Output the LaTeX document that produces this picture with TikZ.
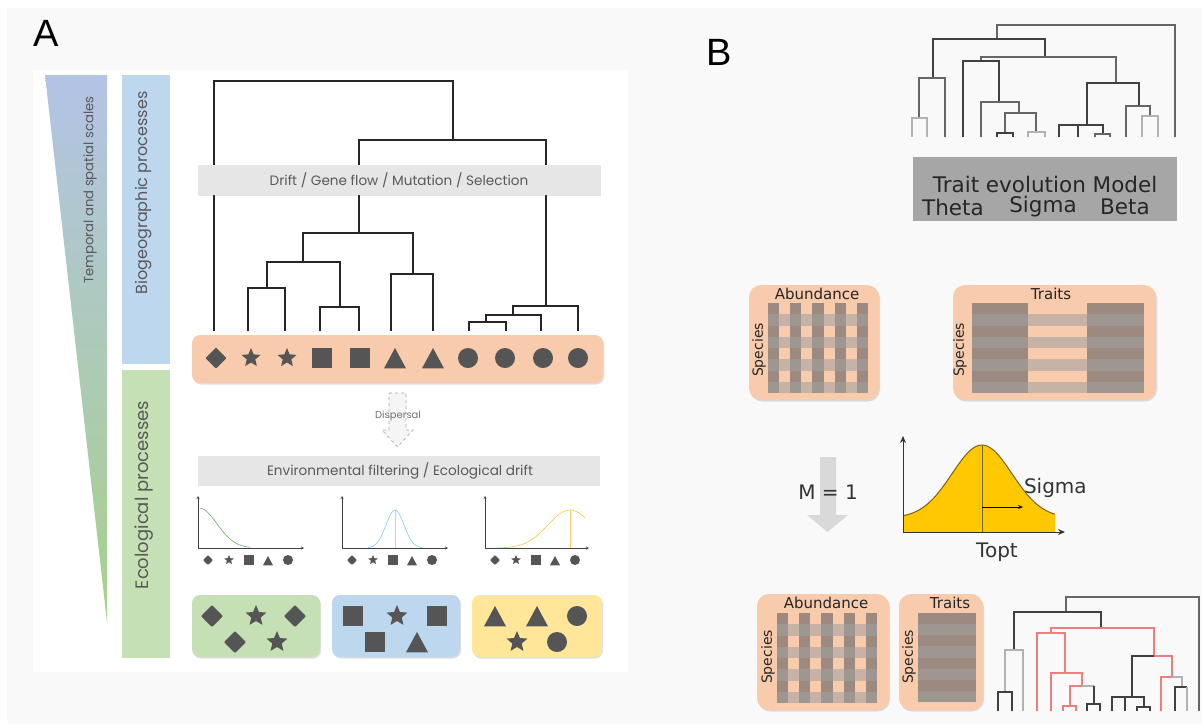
\documentclass[tikz,border=0pt]{standalone}
\usepackage{fontspec}
\setmainfont{DejaVu Sans}
\newfontfamily\fa{Poppins}
\newfontfamily\fl{Liberation Sans}
\usetikzlibrary{shadows,arrows.meta,calc}
\definecolor{bgc}{HTML}{F9F9F9}
\definecolor{salmon}{HTML}{F8CBAD}
\definecolor{gbox}{HTML}{C5E0B4}
\definecolor{bbox}{HTML}{BDD7EE}
\definecolor{ybox}{HTML}{FFE699}
\definecolor{symc}{HTML}{555555}
\definecolor{band}{HTML}{E6E6E6}
\definecolor{txa}{HTML}{595959}
\definecolor{wedgeb}{HTML}{B3C3E6}
\definecolor{wedgeg}{HTML}{A5D28A}
\definecolor{barb}{HTML}{BDD7EE}
\definecolor{barg}{HTML}{C5E0B4}
\definecolor{darkcol}{RGB}{156,138,128}
\definecolor{stripe}{RGB}{160,160,160}
\definecolor{gold}{HTML}{FFC800}
\definecolor{goldl}{HTML}{7A6410}
\definecolor{redl}{HTML}{F07C7C}
\definecolor{graybox}{HTML}{A6A6A6}
\newcommand{\abgrid}[3]{%
  \foreach \i in {0,2,4,6,8} \fill[darkcol] ({#1+\i*#3/9},#2) rectangle ({#1+(\i+1)*#3/9},{#2+90});
  \foreach \j in {1,3,5,7} \fill[stripe,opacity=0.55] (#1,{#2+\j*90/8}) rectangle ({#1+#3},{#2+(\j+1)*90/8});
}
\begin{document}
\begin{tikzpicture}[x=1pt,y=-1pt,
  every node/.style={inner sep=0pt,outer sep=0pt},
  sbox/.style={rounded corners=8pt,drop shadow={shadow xshift=1pt,shadow yshift=-1.5pt,opacity=0.25}},
  mbox/.style={rounded corners=12pt,fill=salmon,drop shadow={shadow xshift=1pt,shadow yshift=-1.5pt,opacity=0.25}},
  tA/.style={line width=1.6pt,draw=black!85,line cap=rect},
  tB/.style={line width=1.3pt,draw=black!60},
  tBl/.style={line width=1.3pt,draw=black!30},
  tBd/.style={line width=1.3pt,draw=black!75},
  tR/.style={line width=1.3pt,draw=redl},
  axA/.style={line width=0.8pt,draw=black!75,-{Stealth[length=3pt,width=3pt]}},
  symdiam/.pic={\fill[symc,rounded corners=0.8pt] (-#1,0)--(0,-#1)--(#1,0)--(0,#1)--cycle;},
  symsq/.pic={\fill[symc] (-#1,-#1) rectangle (#1,#1);},
  symcirc/.pic={\fill[symc] (0,0) circle[radius=#1];},
  symtri/.pic={\fill[symc] (0,-#1)--(#1,0.85*#1)--(-#1,0.85*#1)--cycle;},
  symstar/.pic={\fill[symc] (-90:#1)--(-54:0.45*#1)--(-18:#1)--(18:0.45*#1)--(54:#1)--(90:0.45*#1)--(126:#1)--(162:0.45*#1)--(198:#1)--(234:0.45*#1)--cycle;},
  fA/.style={font=\fa\fontsize{13.6}{15}\selectfont,text=txa},
  fB/.style={font=\fontsize{15}{17}\selectfont,text=black!85},
  fT/.style={font=\fontsize{21.5}{23}\selectfont,text=black!85},
  fM/.style={font=\fontsize{20}{22}\selectfont,text=black!80},
]
\useasboundingbox (0,0) rectangle (1202,724);
\fill[white] (0,0) rectangle (1202,724);
\fill[bgc] (7,8) rectangle (1202,724);
% ================= PANEL A =================
\fill[white] (33,70) rectangle (628,672);
\node[font=\fl\fontsize{38}{40}\selectfont,anchor=base west] (labA) at (33,46) {A};
\node[font=\fl\fontsize{38}{40}\selectfont,anchor=base west] (labB) at (706,65) {B};
% wedge and bars
\shade[top color=wedgeb,bottom color=wedgeg] (45,75) -- (107,75) -- (107,622) -- cycle;
\fill[barb] (122,75) rectangle (170,364);
\fill[barg] (122,370) rectangle (170,658);
\node[fA,rotate=90,font=\fa\fontsize{13.2}{15}\selectfont] (tscale) at (90,190) {Temporal and spatial scales};
\node[fA,rotate=90,font=\fa\fontsize{16}{18}\selectfont] (tbio) at (144,193) {Biogeographic processes};
\node[fA,rotate=90,font=\fa\fontsize{18}{20}\selectfont] (teco) at (144,495) {Ecological processes};
% phylogeny A
\draw[tA] (214,330)--(214,81)--(453,81)--(453,140);
\draw[tA] (359,233)--(359,140)--(546,140)--(546,306);
\draw[tA] (303,262)--(303,233)--(413,233)--(413,274);
\draw[tA] (267,288)--(267,262)--(340,262)--(340,307);
\draw[tA] (248,330)--(248,288)--(285,288)--(285,330);
\draw[tA] (320,330)--(320,307)--(359,307)--(359,330);
\draw[tA] (391,330)--(391,274)--(433,274)--(433,330);
\draw[tA] (513,315)--(513,306)--(578,306)--(578,330);
\draw[tA] (486,322)--(486,315)--(541,315)--(541,330);
\draw[tA] (469,330)--(469,322)--(506,322)--(506,330);
% band 1
\fill[band,drop shadow={shadow xshift=0.5pt,shadow yshift=-1pt,opacity=0.2}] (198,165) rectangle (600,195);
\node[fA] (drift) at (399,180) {Drift / Gene flow / Mutation / Selection};
% species row
\path[sbox,fill=salmon] (192,335) rectangle (603,383);
\pic at (216,358) {symdiam=10.5};
\pic at (251,358) {symstar=10};
\pic at (287,358) {symstar=10};
\pic at (322,358) {symsq=10};
\pic at (360,358) {symsq=10};
\pic at (395,359) {symtri=11};
\pic at (433,359) {symtri=11};
\foreach \cx in {468,505,543,578} \pic at (\cx,358) {symcirc=10};
% dispersal arrow
\draw[black!35,dashed,fill=black!4,line width=0.6pt] (389,393)--(406,393)--(406,430)--(413,430)--(397.5,447)--(382,430)--(389,430)--cycle;
\node[font=\fa\fontsize{10}{12}\selectfont,text=black!55] (disp) at (398,416) {Dispersal};
% band 2
\fill[band] (198,456) rectangle (600,486);
\node[fA] (envf) at (400,471) {Environmental filtering / Ecological drift};
% graphs
\draw[axA] (198,548)--(198,496);
\draw[axA] (198,548)--(304,548);
\draw[green!50!black!60,line width=0.6pt] plot[domain=200:250,samples=40] (\x,{548-40*exp(-((\x-199)^2)/(2*18^2))});
\draw[axA] (342,548)--(342,496);
\draw[axA] (342,548)--(448,548);
\draw[blue!40!cyan!50,line width=0.6pt] plot[domain=368:422,samples=50] (\x,{548-38*exp(-((\x-395)^2)/(2*9^2))});
\draw[blue!30!cyan!40,line width=0.5pt] (395,510)--(395,548);
\draw[axA] (485,548)--(485,496);
\draw[axA] (485,548)--(589,548);
\draw[orange!70!yellow!70,line width=0.6pt] plot[domain=495:585,samples=50] (\x,{548-38*exp(-((\x-570)^2)/(2*22^2))});
\draw[orange!60!yellow!60,line width=0.5pt] (570,510)--(570,548);
\foreach \ox in {0,144,287} {
  \pic at (208+\ox,560) {symdiam=5};
  \pic at (229+\ox,560) {symstar=5};
  \pic at (249+\ox,560) {symsq=5};
  \pic at (268+\ox,561) {symtri=5};
  \pic at (288+\ox,560) {symcirc=5};
}
% community boxes
\path[sbox,fill=gbox] (192,595) rectangle (320,657);
\path[sbox,fill=bbox] (332,595) rectangle (460,657);
\path[sbox,fill=ybox] (472,595) rectangle (602,657);
\pic at (212,616) {symdiam=11};
\pic at (256,616) {symstar=11};
\pic at (295,616) {symdiam=11};
\pic at (235,642) {symdiam=11};
\pic at (277,642) {symstar=11};
\pic at (353,616) {symsq=10};
\pic at (397,616) {symstar=11};
\pic at (437,616) {symsq=10};
\pic at (375,642) {symsq=10};
\pic at (417,643) {symtri=11};
\pic at (495,617) {symtri=11};
\pic at (537,617) {symtri=11};
\pic at (577,616) {symcirc=10};
\pic at (517,642) {symstar=11};
\pic at (557,642) {symcirc=10};
% ================= PANEL B =================
% top tree
\draw[tB] (1175,137)--(1175,25)--(997,25)--(997,39);
\draw[tBd] (933,78)--(933,39)--(1045,39)--(1045,57);
\draw[tB] (919,118)--(919,78)--(945,78)--(945,137);
\draw[tBl] (912,137)--(912,118)--(927,118)--(927,137);
\draw[tB] (981,61)--(981,57)--(1116,57)--(1116,83);
\draw[tBd] (963,137)--(963,61)--(999,61)--(999,102);
\draw[tB] (981,137)--(981,102)--(1019,102)--(1019,113);
\draw[tB] (1005,133)--(1005,113)--(1036,113)--(1036,132);
\draw[tBd] (997,137)--(997,133)--(1013,133)--(1013,137);
\draw[tBl] (1028,137)--(1028,132)--(1045,132)--(1045,137);
\draw[tBd] (1087,125)--(1087,83)--(1139,83)--(1139,106);
\draw[tBd] (1059,137)--(1059,125)--(1103,125)--(1103,134);
\draw[tBd] (1078,125)--(1078,137);
\draw[tB] (1095,137)--(1095,134)--(1110,134)--(1110,137);
\draw[tB] (1126,137)--(1126,106)--(1150,106)--(1150,116);
\draw[tBl] (1142,137)--(1142,116)--(1158,116)--(1158,137);
\fill[graybox] (913,157) rectangle (1177,221);
\node[fT] (tem) at (1045,184) {Trait evolution Model};
\node[fT] (theta) at (953,207) {Theta};
\node[fT] (sigma1) at (1043,207) {Sigma};
\node[fT] (beta) at (1125,207) {Beta};
% matrices row 1
\path[mbox] (749,285) rectangle (879,400);
\abgrid{768}{303}{100}
\node[fB] (ab1) at (817,294) {Abundance};
\node[fB,rotate=90,font=\fontsize{14}{16}\selectfont] (sp1) at (759,350) {Species};
\path[mbox] (953,285) rectangle (1156,400);
\fill[darkcol] (972,303) rectangle (1028,393);
\fill[darkcol] (1087,303) rectangle (1144,393);
\foreach \j in {1,3,5,7} \fill[stripe,opacity=0.55] (972,{303+\j*90/8}) rectangle (1144,{303+(\j+1)*90/8});
\node[fB] (tr1) at (1051,294) {Traits};
\node[fB,rotate=90,font=\fontsize{14}{16}\selectfont] (sp2) at (960,350) {Species};
% arrow M=1
\fill[black!15] (820,457)--(836,457)--(836,515)--(848,515)--(827.5,532)--(807,515)--(820,515)--cycle;
\node[fM] (m1) at (828,492) {M = 1};
% gaussian
\fill[gold] (903,532) -- plot[domain=903:1055,samples=80] (\x,{518-73*exp(-((\x-982)^2)/(2*30^2))}) -- (1055,532) -- cycle;
\draw[goldl,line width=1pt] plot[domain=903:1055,samples=80] (\x,{518-73*exp(-((\x-982)^2)/(2*30^2))});
\draw[goldl,line width=1pt] (982,445)--(982,532);
\draw[black,line width=0.8pt,-{Stealth[length=5pt,width=4pt]}] (982,507)--(1023,507);
\draw[black!80,line width=1pt,-{Stealth[length=7pt,width=6pt]}] (903,532)--(903,436);
\draw[black!80,line width=1pt,-{Stealth[length=7pt,width=6pt]}] (903,532)--(1065,532);
\node[fM,anchor=west] (sig) at (1024,488) {Sigma};
\node[fM] (topt) at (997,552) {Topt};
% matrices row 2
\path[mbox] (757,594) rectangle (889,710);
\abgrid{777}{613}{100}
\node[fB] (ab2) at (826,603) {Abundance};
\node[fB,rotate=90,font=\fontsize{14}{16}\selectfont] (sp3) at (768,657) {Species};
\path[mbox] (899,594) rectangle (983,710);
\fill[darkcol] (918,613) rectangle (976,702);
\foreach \j in {1,3,5,7} \fill[stripe,opacity=0.55] (918,{613+\j*89/8}) rectangle (976,{613+(\j+1)*89/8});
\node[fB] (tr2) at (950,603) {Traits};
\node[fB,rotate=90,font=\fontsize{14}{16}\selectfont] (sp4) at (909,657) {Species};
% bottom tree
\draw[tB] (1199,711)--(1199,597)--(1066,597)--(1066,612);
\draw[tBd] (1014,650)--(1014,612)--(1101,612)--(1101,628);
\draw[tBl] (1005,692)--(1005,650)--(1023,650)--(1023,711);
\draw[tBd] (998,711)--(998,692)--(1012,692)--(1012,711);
\draw[tR] (1051,633)--(1051,628)--(1154,628)--(1154,656);
\draw[tR] (1037,711)--(1037,633)--(1065,633)--(1065,673);
\draw[tR] (1051,711)--(1051,673)--(1082,673)--(1082,686);
\draw[tR] (1070,706)--(1070,686)--(1082,686);
\draw[tBl] (1082,686)--(1094,686);
\draw[tBd] (1094,686)--(1094,704);
\draw[tR] (1063,711)--(1063,706)--(1076,706)--(1076,711);
\draw[tBd] (1087,711)--(1087,704)--(1100,704)--(1100,711);
\draw[tBd] (1132,697)--(1132,656)--(1154,656);
\draw[tR] (1154,656)--(1172,656)--(1172,677);
\draw[tBd] (1112,711)--(1112,697)--(1144,697)--(1144,707);
\draw[tBd] (1125,697)--(1125,711);
\draw[tBd] (1137,711)--(1137,707)--(1150,707)--(1150,711);
\draw[tR] (1161,711)--(1161,677)--(1172,677);
\draw[tBl] (1172,677)--(1182,677)--(1182,687);
\draw[tBd] (1175,711)--(1175,687)--(1187,687);
\draw[tBl] (1187,687)--(1187,711);
\end{tikzpicture}
\end{document}
